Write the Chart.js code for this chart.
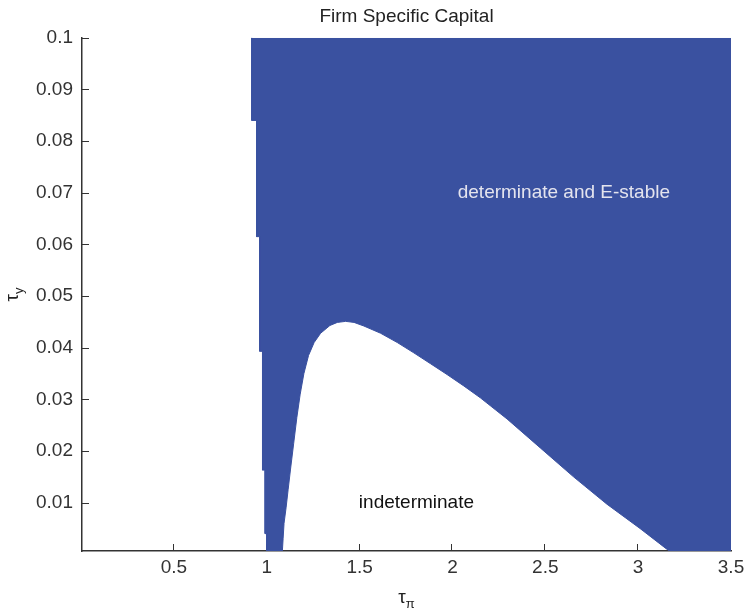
<!DOCTYPE html>
<html>
<head>
<meta charset="utf-8">
<script src="https://cdn.jsdelivr.net/npm/chart.js@4.4.1/dist/chart.umd.min.js"></script>
<style>
  html, body { margin: 0; padding: 0; background: #fff; }
  #wrap { width: 745px; height: 614px; }
</style>
</head>
<body>
<div id="wrap"><canvas id="chart"></canvas></div>
<script>
// Lower edge of the determinate and E-stable region.
// Everything between this edge and tau_y = 0.1 is blue.
const edgeTauPi = [0.919, 0.919, 0.945, 0.945, 0.962, 0.962, 0.977, 0.977, 0.991, 0.991, 1.0, 1.0,
  1.084, 1.088, 1.093, 1.104, 1.115, 1.128, 1.145, 1.162, 1.18, 1.2, 1.225, 1.255, 1.29, 1.34, 1.38,
  1.425, 1.47, 1.523, 1.613, 1.703, 1.792, 1.882, 1.971, 2.061, 2.15, 2.294, 2.473, 2.652, 2.832,
  3.01, 3.154, 3.17, 3.5];
const edgeTauY = [0.1, 0.084, 0.084, 0.0615, 0.0615, 0.0393, 0.0393, 0.0163, 0.0163, 0.004, 0.004, 0.0006,
  0.0006, 0.003, 0.006, 0.009, 0.0125, 0.0165, 0.0215, 0.0265, 0.031, 0.035, 0.0385, 0.041, 0.0428, 0.0443, 0.0449,
  0.0451, 0.0449, 0.0442, 0.0428, 0.041, 0.039, 0.0369, 0.0348, 0.0326, 0.0303, 0.0262, 0.0206, 0.015, 0.0097,
  0.005, 0.001, 0.0006, 0.0006];

const xTicks = [0.5, 1, 1.5, 2, 2.5, 3, 3.5];
const yTicks = [0.01, 0.02, 0.03, 0.04, 0.05, 0.06, 0.07, 0.08, 0.09, 0.1];

// region labels: [text, tau_pi, tau_y, colour]
const regionLabels = [
  ['determinate and E-stable', 2.6, 0.070, '#e4e4ee'],
  ['indeterminate', 1.806, 0.0099, '#111111'],
];

const titleText = 'Firm Specific Capital';
const xTitle = ['τ', 'π'];
const yTitle = ['τ', 'y'];

const blue = '#3a51a0';
const axisColor = '#333333';
const fontFamily = '"Liberation Sans", Arial, Helvetica, sans-serif';

const points = edgeTauPi.map((x, i) => ({x: x, y: edgeTauY[i]}));

// Tick marks point inwards and sit under the data, like the original.
const innerTicks = {
  id: 'innerTicks',
  beforeDatasetsDraw(chart) {
    const {ctx, chartArea: {left, bottom}, scales: {x, y}} = chart;
    ctx.save();
    ctx.strokeStyle = axisColor;
    ctx.lineWidth = 1;
    ctx.beginPath();
    x.ticks.forEach(t => {
      const px = Math.round(x.getPixelForValue(t.value)) - 0.5;
      ctx.moveTo(px, bottom);
      ctx.lineTo(px, bottom - 7);
    });
    y.ticks.forEach(t => {
      const py = Math.round(y.getPixelForValue(t.value)) + 0.5;
      ctx.moveTo(left, py);
      ctx.lineTo(left + 7, py);
    });
    ctx.stroke();
    ctx.restore();
  }
};

function drawSubscripted(ctx, parts, x, y) {
  ctx.font = '19px ' + fontFamily;
  const w1 = ctx.measureText(parts[0]).width;
  ctx.font = '13px ' + fontFamily;
  const w2 = ctx.measureText(parts[1]).width;
  const start = x - (w1 + w2) / 2;
  ctx.textAlign = 'left';
  ctx.textBaseline = 'alphabetic';
  ctx.font = '19px ' + fontFamily;
  ctx.fillText(parts[0], start, y);
  ctx.font = '13px ' + fontFamily;
  ctx.fillText(parts[1], start + w1, y + 5);
}

const textLayer = {
  id: 'textLayer',
  afterDraw(chart) {
    const {ctx, chartArea, scales: {x, y}} = chart;
    ctx.save();
    ctx.font = '19px ' + fontFamily;
    ctx.textAlign = 'center';
    ctx.textBaseline = 'middle';
    regionLabels.forEach(([text, tx, ty, color]) => {
      ctx.fillStyle = color;
      ctx.fillText(text, x.getPixelForValue(tx), y.getPixelForValue(ty));
    });

    ctx.fillStyle = '#222222';
    const cx = (chartArea.left + chartArea.right) / 2;
    drawSubscripted(ctx, xTitle, cx, 603);

    ctx.translate(18, (chartArea.top + chartArea.bottom) / 2);
    ctx.rotate(-Math.PI / 2);
    drawSubscripted(ctx, yTitle, 0, 0);
    ctx.restore();
  }
};

const config = {
  type: 'line',
  data: {
    datasets: [{
      data: points,
      fill: 'end',
      backgroundColor: blue,
      borderColor: blue,
      borderWidth: 1,
      pointRadius: 0,
      tension: 0,
    }]
  },
  options: {
    responsive: true,
    maintainAspectRatio: false,
    animation: false,
    layout: {
      padding: {left: 0, right: 14, top: 0, bottom: 0}
    },
    plugins: {
      legend: {display: false},
      tooltip: {enabled: false},
      title: {
        display: true,
        text: titleText,
        fullSize: false,
        color: '#222222',
        font: {family: fontFamily, size: 19, weight: 'normal'},
        padding: {top: 5, bottom: 10}
      }
    },
    scales: {
      x: {
        type: 'linear',
        min: 0.005,
        max: 3.5,
        afterBuildTicks: (scale) => {
          scale.ticks = xTicks.map(v => ({value: v}));
        },
        afterFit: (scale) => {
          scale.height = 63;
          scale.paddingRight = 0;
        },
        ticks: {
          color: axisColor,
          padding: 5,
          maxRotation: 0,
          autoSkip: false,
          font: {family: fontFamily, size: 19},
          callback: (value) => String(value)
        },
        grid: {display: false, drawTicks: false},
        border: {display: true, color: axisColor, width: 1.5}
      },
      y: {
        type: 'linear',
        min: 0.00064,
        max: 0.1,
        afterBuildTicks: (scale) => {
          scale.ticks = yTicks.map(v => ({value: v}));
        },
        afterFit: (scale) => {
          scale.width = 82;
        },
        ticks: {
          color: axisColor,
          padding: 9,
          autoSkip: false,
          font: {family: fontFamily, size: 19},
          callback: (value) => String(value)
        },
        grid: {display: false, drawTicks: false},
        border: {display: true, color: axisColor, width: 1.5}
      }
    }
  },
  plugins: [innerTicks, textLayer]
};

new Chart(document.getElementById('chart'), config);
</script>
</body>
</html>
